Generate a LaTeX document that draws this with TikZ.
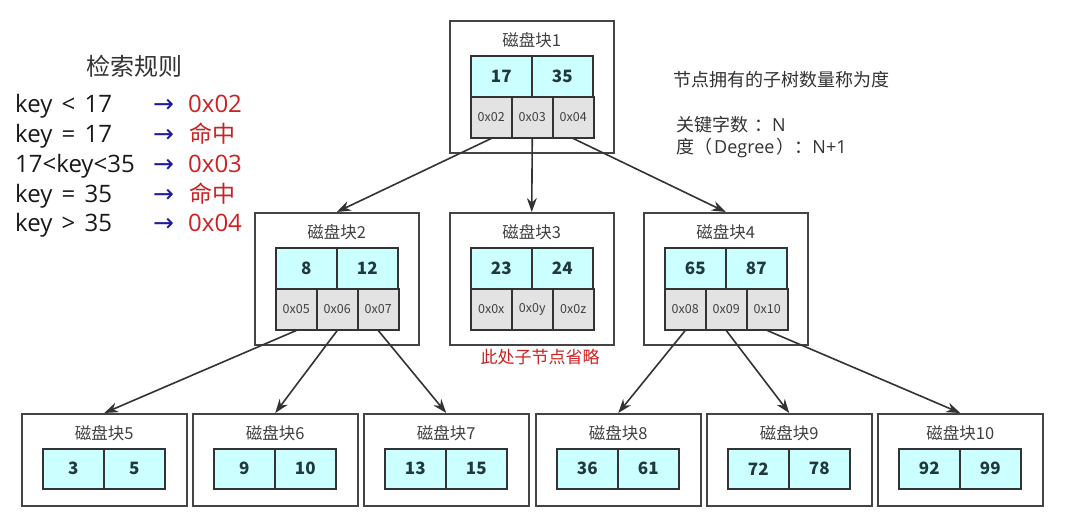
\documentclass[tikz,border=0pt]{standalone}
\usepackage{fontspec}
\setmainfont{Noto Sans CJK SC}
\newfontfamily\arrfont{DejaVu Sans}
\newfontfamily\latinfont{Open Sans}
\usetikzlibrary{arrows.meta}
\definecolor{keycyan}{HTML}{CCFFFF}
\definecolor{ptrgray}{HTML}{E3E3E3}
\definecolor{edgec}{HTML}{333333}
\definecolor{boxc}{HTML}{444444}
\definecolor{keytext}{HTML}{1F3A3D}
\definecolor{hitred}{HTML}{CC2222}
\definecolor{navyc}{HTML}{1C1C9C}
\tikzset{
  blockbox/.style={draw=boxc, line width=1.5pt, fill=white, inner sep=0pt, anchor=north west},
  blocktitle/.style={font=\fontsize{16.5}{18}\selectfont, text=black!75, inner sep=0pt},
  keycell/.style={draw=edgec, line width=1.5pt, fill=keycyan, inner sep=0pt, anchor=north west,
     minimum width=61pt, font=\fontsize{17}{20}\selectfont\bfseries, text=keytext},
  ptrcell/.style={draw=edgec, line width=1.5pt, fill=ptrgray, inner sep=0pt, anchor=north west,
     minimum width=41pt, minimum height=41pt, font=\fontsize{12.5}{15}\selectfont, text=black!75},
  arr/.style={draw=edgec, line width=1.6pt, -{Stealth[length=14pt,width=10pt]}},
  ruletext/.style={font=\latinfont\fontsize{24}{28}\selectfont, text=black!90, anchor=base west, inner sep=0pt},
  rulearrow/.style={font=\arrfont\fontsize{25}{28}\selectfont, text=navyc, anchor=base west, inner sep=0pt},
  rulered/.style={font=\latinfont\fontsize{24}{28}\selectfont, text=hitred, anchor=base west, inner sep=0pt},
  notetext/.style={font=\fontsize{18}{20}\selectfont, text=black!80, anchor=base west, inner sep=0pt}
}
% name, X, Y, title, k1, k2, p1, p2, p3
\newcommand\innerblock[9]{%
  \node[blockbox, minimum width=164pt, minimum height=132pt] (#1) at (#2,#3) {};
  \path (#1.north) ++(0,20) node[blocktitle] (#1t) {#4};
  \node[keycell, minimum height=41pt] (#1k1) at ([shift={(21,35)}]#1.north west) {#5};
  \node[keycell, minimum height=41pt] (#1k2) at ([shift={(82,35)}]#1.north west) {#6};
  \node[ptrcell] (#1p1) at ([shift={(21,76)}]#1.north west) {#7};
  \node[ptrcell] (#1p2) at ([shift={(62,76)}]#1.north west) {#8};
  \node[ptrcell] (#1p3) at ([shift={(103,76)}]#1.north west) {#9};
}
% name, X, Y, title, k1, k2
\newcommand\leafblock[6]{%
  \node[blockbox, minimum width=165pt, minimum height=92pt] (#1) at (#2,#3) {};
  \path (#1.north) ++(0,20) node[blocktitle] (#1t) {#4};
  \node[keycell, minimum height=40pt] (#1k1) at ([shift={(21,35)}]#1.north west) {#5};
  \node[keycell, minimum height=40pt] (#1k2) at ([shift={(82,35)}]#1.north west) {#6};
}
\newcommand\rgap{\hspace{3pt}}
\begin{document}
\begin{tikzpicture}[x=1pt,y=-1pt]
\path[use as bounding box, fill=white] (0,0) rectangle (1088,520);

\innerblock{b1}{449}{20}{磁盘块1}{17}{35}{0x02}{0x03}{0x04}
\innerblock{b2}{254}{212}{磁盘块2}{8}{12}{0x05}{0x06}{0x07}
\innerblock{b3}{449}{212}{磁盘块3}{23}{24}{0x0x}{0x0y}{0x0z}
\innerblock{b4}{643}{212}{磁盘块4}{65}{87}{0x08}{0x09}{0x10}

\leafblock{b5}{21}{413}{磁盘块5}{3}{5}
\leafblock{b6}{192}{413}{磁盘块6}{9}{10}
\leafblock{b7}{363}{413}{磁盘块7}{13}{15}
\leafblock{b8}{535}{413}{磁盘块8}{36}{61}
\leafblock{b9}{706}{413}{磁盘块9}{72}{78}
\leafblock{b10}{877}{413}{磁盘块10}{92}{99}

\draw[arr] (b1p1.south) -- (b2.north);
\draw[arr] (b1p2.south) -- (b3.north);
\draw[arr] (b1p3.south) -- (b4.north);
\draw[arr] (b2p1.south) -- (b5.north);
\draw[arr] (b2p2.south) -- (b6.north);
\draw[arr] (b2p3.south) -- (b7.north);
\draw[arr] (b4p1.south) -- (b8.north);
\draw[arr] (b4p2.south) -- (b9.north);
\draw[arr] (b4p3.south) -- (b10.north);

\node[font=\fontsize{17}{18}\selectfont, text=hitred, inner sep=0pt] (omit) at (540,357) {此处子节点省略};

% retrieval rules
\node[font=\fontsize{24}{26}\selectfont, text=black!80, anchor=base, inner sep=0pt] (rt) at (134,75) {检索规则};
\node[ruletext] (r1) at (15,112) {key \rgap< \rgap17};
\node[ruletext] (r2) at (15,142) {key \rgap= \rgap17};
\node[ruletext] (r3) at (15,172) {17<key<35};
\node[ruletext] (r4) at (15,202) {key \rgap= \rgap35};
\node[ruletext] (r5) at (15,231) {key \rgap> \rgap35};
\node[rulearrow] (a1) at (153,112) {→};
\node[rulearrow] (a2) at (153,142) {→};
\node[rulearrow] (a3) at (153,172) {→};
\node[rulearrow] (a4) at (153,202) {→};
\node[rulearrow] (a5) at (153,231) {→};
\node[rulered] (h1) at (188,112) {0x02};
\node[rulered, font=\fontsize{23}{28}\selectfont] (h2) at (189,142) {命中};
\node[rulered] (h3) at (188,172) {0x03};
\node[rulered, font=\fontsize{23}{28}\selectfont] (h4) at (189,202) {命中};
\node[rulered] (h5) at (188,231) {0x04};

% notes
\node[notetext] (n1) at (673,86) {节点拥有的子树数量称为度};
\node[notetext] (n2) at (676,131) {关键字数\hspace{6pt}：{\latinfont N}};
\node[notetext] (n3) at (676,153) {度（\hspace{2pt}{\latinfont Degree}\hspace{2pt}）：{\latinfont N+1}};
\end{tikzpicture}
\end{document}
